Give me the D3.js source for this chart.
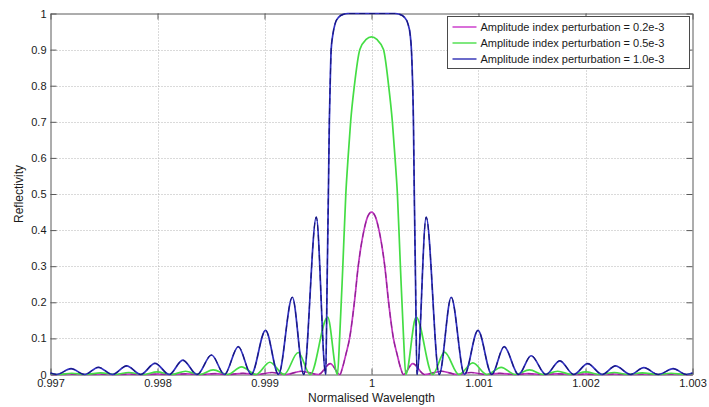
<!DOCTYPE html>
<html>
<head>
<meta charset="utf-8">
<script src="https://cdn.jsdelivr.net/npm/d3@7"></script>
<style>
  body { margin: 0; background: #fff; }
  svg { display: block; }
  text { font-family: "Liberation Sans", Arial, sans-serif; fill: #1a1a1a; }
</style>
</head>
<body>
<svg id="chart" width="709" height="407"></svg>
<script>
// Axis ticks
const xTicks = [0.997, 0.998, 0.999, 1.0, 1.001, 1.002, 1.003];
const xTickLabels = ["0.997", "0.998", "0.999", "1", "1.001", "1.002", "1.003"];
const yTicks = [0, 0.1, 0.2, 0.3, 0.4, 0.5, 0.6, 0.7, 0.8, 0.9, 1];
const yTickLabels = ["0", "0.1", "0.2", "0.3", "0.4", "0.5", "0.6", "0.7", "0.8", "0.9", "1"];

const seriesNames = [
  "Amplitude index perturbation = 0.2e-3",
  "Amplitude index perturbation = 0.5e-3",
  "Amplitude index perturbation = 1.0e-3"
];

// Reflectivity spectrum, index perturbation 0.2e-3
const wavelength02 = [0.997000, 0.997070, 0.997200, 0.997330, 0.997470, 0.997600, 0.997732, 0.997864,
  0.997997, 0.998130, 0.998265, 0.998400, 0.998535, 0.998665, 0.998800, 0.998930, 0.999070, 0.999200,
  0.999343, 0.999505, 0.999615, 0.999705, 0.999730, 0.999760, 0.999795, 0.999840, 0.999876, 0.999930,
  0.999965, 1.000000, 1.000035, 1.000070, 1.000124, 1.000160, 1.000205, 1.000240, 1.000270, 1.000298,
  1.000386, 1.000495, 1.000657, 1.000800, 1.000930, 1.001070, 1.001200, 1.001335, 1.001465, 1.001600,
  1.001735, 1.001870, 1.002003, 1.002136, 1.002268, 1.002400, 1.002530, 1.002670, 1.002800, 1.002930,
  1.003000];
const reflectivity02 = [0.0005, 0, 0.0008, 0, 0.0009, 0, 0.001, 0,
  0.0012, 0, 0.0016, 0, 0.0022, 0, 0.0033, 0, 0.0055, 0,
  0.009, 0, 0.030, 0, 0.02, 0.055, 0.10, 0.20, 0.30, 0.40,
  0.438, 0.45, 0.438, 0.40, 0.30, 0.20, 0.10, 0.055, 0.02, 0,
  0.030, 0, 0.009, 0, 0.0055, 0, 0.0033, 0, 0.0022, 0,
  0.0016, 0, 0.0012, 0, 0.001, 0, 0.0009, 0, 0.0008, 0,
  0.0005];

// Reflectivity spectrum, index perturbation 0.5e-3
const wavelength05 = [0.997000, 0.997070, 0.997200, 0.997330, 0.997470, 0.997600, 0.997732, 0.997864,
  0.997997, 0.998130, 0.998262, 0.998394, 0.998520, 0.998658, 0.998785, 0.998922, 0.999050, 0.999183,
  0.999315, 0.999428, 0.999590, 0.999682, 0.999702, 0.999732, 0.999760, 0.999781, 0.999805, 0.999840,
  0.999891, 0.999950, 1.000000, 1.000050, 1.000112, 1.000160, 1.000195, 1.000220, 1.000242, 1.000270,
  1.000300, 1.000320, 1.000417, 1.000572, 1.000682, 1.000817, 1.000947, 1.001078, 1.001212, 1.001342,
  1.001477, 1.001606, 1.001740, 1.001870, 1.002003, 1.002136, 1.002268, 1.002400, 1.002530, 1.002670,
  1.002800, 1.002930, 1.003000];
const reflectivity05 = [0.002, 0, 0.0035, 0, 0.0045, 0, 0.0055, 0,
  0.007, 0, 0.009, 0, 0.013, 0, 0.021, 0, 0.034, 0,
  0.061, 0, 0.159, 0, 0.10, 0.30, 0.50, 0.60, 0.70, 0.80,
  0.90, 0.928, 0.935, 0.928, 0.90, 0.80, 0.70, 0.60, 0.50, 0.30,
  0.10, 0, 0.159, 0, 0.062, 0, 0.032, 0, 0.020, 0,
  0.013, 0, 0.009, 0, 0.007, 0, 0.0055, 0, 0.0045, 0,
  0.0035, 0, 0.002];

// Reflectivity spectrum, index perturbation 1.0e-3
const wavelength10 = [0.997000, 0.997056, 0.997192, 0.997320, 0.997447, 0.997580, 0.997712, 0.997843,
  0.997977, 0.998110, 0.998236, 0.998370, 0.998505, 0.998626, 0.998755, 0.998876, 0.999010, 0.999131,
  0.999260, 0.999367, 0.999484, 0.999572, 0.999585, 0.999597, 0.999606, 0.999615, 0.999623, 0.999638,
  0.999660, 0.999694, 0.999740, 0.999780, 1.000000, 1.000220, 1.000260, 1.000306, 1.000340, 1.000362,
  1.000373, 1.000383, 1.000392, 1.000400, 1.000412, 1.000425, 1.000511, 1.000633, 1.000745, 1.000869,
  1.000995, 1.001124, 1.001240, 1.001374, 1.001492, 1.001630, 1.001760, 1.001890, 1.002020, 1.002157,
  1.002280, 1.002420, 1.002545, 1.002680, 1.002820, 1.002944, 1.003000];
const reflectivity10 = [0.004, 0, 0.016, 0, 0.020, 0, 0.024, 0,
  0.031, 0, 0.040, 0, 0.054, 0, 0.077, 0, 0.122, 0,
  0.214, 0, 0.436, 0, 0.25, 0.50, 0.70, 0.82, 0.90, 0.94,
  0.972, 0.99, 0.998, 1.0, 1.0, 1.0, 0.998, 0.99, 0.972, 0.94,
  0.90, 0.82, 0.70, 0.50, 0.25, 0, 0.436, 0, 0.214, 0,
  0.122, 0, 0.077, 0, 0.052, 0, 0.038, 0, 0.030, 0,
  0.024, 0, 0.019, 0, 0.016, 0, 0.004];

const svg = d3.select("#chart");
const plot = { left: 50.5, right: 692.5, top: 13.5, bottom: 374.5 };

const x = d3.scaleLinear().domain([0.997, 1.003]).range([plot.left, plot.right]);
const y = d3.scaleLinear().domain([0, 1]).range([plot.bottom, plot.top]);

// Dotted grid
const grid = svg.append("g").attr("stroke", "#b4b4b4").attr("stroke-width", 1)
  .attr("stroke-dasharray", "1,2");
grid.selectAll("line.gx").data(xTicks.slice(1, -1)).join("line")
  .attr("x1", d => Math.round(x(d)) + 0.5).attr("x2", d => Math.round(x(d)) + 0.5)
  .attr("y1", plot.top).attr("y2", plot.bottom);
grid.selectAll("line.gy").data(yTicks.slice(1, -1)).join("line")
  .attr("y1", d => Math.round(y(d)) + 0.5).attr("y2", d => Math.round(y(d)) + 0.5)
  .attr("x1", plot.left).attr("x2", plot.right);

// Axes with inward ticks on all four sides
const fmtX = (d, i) => xTickLabels[i];
const fmtY = (d, i) => yTickLabels[i];
function styleAxis(g) {
  g.select(".domain").attr("stroke", "#5a5a5a");
  g.selectAll(".tick line").attr("stroke", "#5a5a5a");
  g.selectAll(".tick text").attr("font-size", 11).attr("fill", "#1a1a1a")
    .attr("font-family", "'Liberation Sans', Arial, sans-serif");
}
svg.append("g").attr("transform", `translate(0,${plot.bottom})`)
  .call(d3.axisBottom(x).tickValues(xTicks).tickFormat(fmtX).tickSizeInner(-6).tickSizeOuter(0).tickPadding(5))
  .call(styleAxis);
svg.append("g").attr("transform", `translate(0,${plot.top})`)
  .call(d3.axisTop(x).tickValues(xTicks).tickFormat("").tickSizeInner(-6).tickSizeOuter(0))
  .call(styleAxis);
svg.append("g").attr("transform", `translate(${plot.left},0)`)
  .call(d3.axisLeft(y).tickValues(yTicks).tickFormat(fmtY).tickSizeInner(-6).tickSizeOuter(0).tickPadding(4))
  .call(styleAxis);
svg.append("g").attr("transform", `translate(${plot.right},0)`)
  .call(d3.axisRight(y).tickValues(yTicks).tickFormat("").tickSizeInner(-6).tickSizeOuter(0))
  .call(styleAxis);
svg.selectAll(".domain").attr("fill", "none");

// Axis titles
svg.append("text").attr("x", 371.5).attr("y", 402).attr("text-anchor", "middle")
  .attr("font-size", 12).text("Normalised Wavelength");
svg.append("text").attr("transform", "translate(23,194) rotate(-90)")
  .attr("text-anchor", "middle").attr("font-size", 12).text("Reflectivity");

// Spectra
const line = d3.line().x(d => x(d[0])).y(d => y(d[1])).curve(d3.curveMonotoneX);
const series = [
  { data: d3.zip(wavelength02, reflectivity02), color: "#c236c2", dash: "#8c2290" },
  { data: d3.zip(wavelength05, reflectivity05), color: "#44dd44", dash: null },
  { data: d3.zip(wavelength10, reflectivity10), color: "#3030c0", dash: "#18187a" }
];
const curves = svg.append("g").attr("fill", "none").attr("stroke-linejoin", "round");
series.forEach(s => {
  curves.append("path").attr("d", line(s.data)).attr("stroke", s.color).attr("stroke-width", 1.7);
  if (s.dash) {
    curves.append("path").attr("d", line(s.data)).attr("stroke", s.dash)
      .attr("stroke-width", 1.1).attr("stroke-dasharray", "6,4");
  }
});

// Legend
const legend = svg.append("g").attr("transform", "translate(447.5,16.5)");
legend.append("rect").attr("width", 242).attr("height", 52)
  .attr("fill", "#fff").attr("stroke", "#4a4a4a").attr("stroke-width", 1);
const legendColors = ["#cc40cc", "#55e055", "#3a3ab8"];
seriesNames.forEach((name, i) => {
  const ly = 10.5 + i * 16;
  legend.append("line").attr("x1", 5).attr("x2", 29).attr("y1", ly).attr("y2", ly)
    .attr("stroke", legendColors[i]).attr("stroke-width", 1.5);
  legend.append("text").attr("x", 33).attr("y", ly + 4).attr("font-size", 11).text(name);
});
</script>
</body>
</html>
